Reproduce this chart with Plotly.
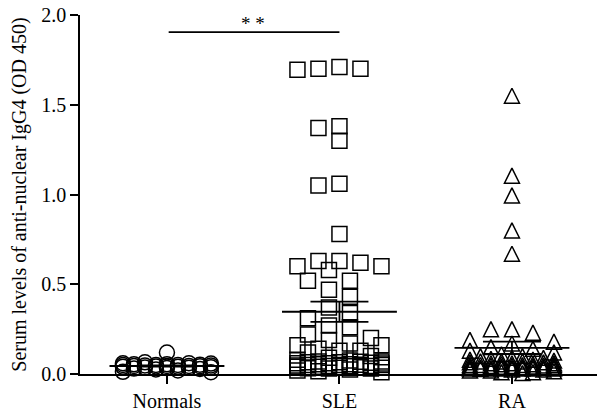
import plotly.graph_objects as go

categories = ["Normals", "SLE", "RA"]

normals = [0.12, 0.065, 0.06, 0.06, 0.058, 0.055, 0.055, 0.052, 0.05, 0.05,
           0.05, 0.048, 0.048, 0.045, 0.045, 0.045, 0.043, 0.042, 0.04, 0.04,
           0.038, 0.036, 0.035, 0.033, 0.03, 0.028, 0.025, 0.02, 0.012, 0.01]

sle = [1.71, 1.70, 1.70, 1.695, 1.38, 1.37, 1.30, 1.06, 1.05, 0.78,
       0.63, 0.63, 0.62, 0.60, 0.60, 0.58, 0.52, 0.52, 0.47, 0.43,
       0.37, 0.34, 0.31, 0.27, 0.26, 0.22, 0.20, 0.19, 0.17, 0.16,
       0.16, 0.14, 0.13, 0.13, 0.12, 0.10, 0.09,
       0.08, 0.075, 0.07, 0.07, 0.068, 0.065, 0.065, 0.062, 0.06, 0.06,
       0.058, 0.055, 0.055, 0.052, 0.05, 0.05, 0.05, 0.048, 0.045, 0.045,
       0.043, 0.04, 0.04, 0.038, 0.035, 0.035, 0.032, 0.03, 0.03, 0.025,
       0.02, 0.015, 0.01]

ra = [1.55, 1.105, 0.995, 0.80, 0.67, 0.25, 0.25, 0.23, 0.19, 0.18,
      0.17, 0.15, 0.14, 0.13, 0.12, 0.11, 0.10, 0.10, 0.09, 0.09,
      0.085, 0.08, 0.08, 0.075, 0.07, 0.07, 0.07, 0.065, 0.065, 0.06,
      0.06, 0.06, 0.055, 0.055, 0.05, 0.05, 0.05, 0.05, 0.048, 0.045,
      0.045, 0.042, 0.04, 0.04, 0.04, 0.038, 0.035, 0.035, 0.033, 0.03,
      0.03, 0.03, 0.03, 0.03, 0.03, 0.028, 0.025, 0.025, 0.02, 0.02,
      0.015, 0.01, 0.01, 0.005]

y_ticks = [0.0, 0.5, 1.0, 1.5, 2.0]
signif_label = "* *"

# ---- layout geometry ----
W, H = 597, 413
ML, MR, MT, MB = 80, 0, 15, 39
XR = [-0.504, 2.493]
YR = [0.0, 2.0]
PX_X = (W - ML - MR) / (XR[1] - XR[0])
PX_Y = (H - MT - MB) / (YR[1] - YR[0])
MSIZE = 15


def swarm(values, step_px, nslots, w_px, h_px):
    """Simple beeswarm: returns x offsets (data units) for each value."""
    order = sorted(range(len(values)), key=lambda i: -values[i])
    slots = [0]
    for k in range(1, nslots + 1):
        slots += [-k, k]
    placed = []
    offs = [0.0] * len(values)
    for i in order:
        y = values[i] * PX_Y
        best_x, best_score = None, None
        for s in slots:
            x = s * step_px
            score = 0.0
            for (px, py) in placed:
                ox = w_px - abs(px - x)
                oy = h_px - abs(py - y)
                if ox > 0 and oy > 0:
                    score += ox * oy
            if best_score is None or score < best_score - 1e-9:
                best_x, best_score = x, score
            if score == 0:
                break
        placed.append((best_x, y))
        offs[i] = best_x / PX_X
    return offs


groups = [
    (normals, "circle-open", 11.0),
    (sle, "square-open", 10.5),
    (ra, "arrow-up-open", 10.5),
]

fig = go.Figure()
shapes = []
for gi, (vals, sym, step) in enumerate(groups):
    offs = swarm(vals, step, 4, 14, 14)
    xs = [gi + o for o in offs]
    if sym.startswith("arrow"):
        # arrow-up apex sits on the point; shift so the glyph is centred
        ys = [v + (MSIZE / 2) / PX_Y for v in vals]
    else:
        ys = list(vals)
    fig.add_trace(go.Scatter(
        x=xs, y=ys, mode="markers", cliponaxis=False, showlegend=False,
        marker=dict(symbol=sym, size=MSIZE, color="black",
                    line=dict(color="black", width=1.5)),
    ))
    n = len(vals)
    mean = sum(vals) / n
    sd = (sum((v - mean) ** 2 for v in vals) / (n - 1)) ** 0.5
    sem = sd / n ** 0.5
    lw = dict(color="black", width=1.8)
    shapes.append(dict(type="line", xref="x", yref="y", x0=gi - 0.333, x1=gi + 0.333,
                       y0=mean, y1=mean, line=lw))
    for yy in (mean - sem, mean + sem):
        shapes.append(dict(type="line", xref="x", yref="y", x0=gi - 0.168, x1=gi + 0.168,
                           y0=yy, y1=yy, line=lw))
    shapes.append(dict(type="line", xref="x", yref="y", x0=gi, x1=gi,
                       y0=mean - sem, y1=mean + sem, line=lw))

# significance bar between Normals and SLE
shapes.append(dict(type="line", xref="x", yref="y", x0=0.01, x1=1.0,
                   y0=1.905, y1=1.905, line=dict(color="black", width=1.8)))

font_family = "Liberation Serif"
fig.update_layout(
    width=W, height=H,
    margin=dict(l=ML, r=MR, t=MT, b=MB),
    paper_bgcolor="white", plot_bgcolor="white",
    font=dict(family=font_family, size=20, color="black"),
    shapes=shapes,
    annotations=[dict(x=0.5, y=1.905, xref="x", yref="y", text=signif_label,
                      showarrow=False, yanchor="bottom", yshift=-4,
                      font=dict(family=font_family, size=19, color="black"))],
    xaxis=dict(range=XR, tickvals=[0, 1, 2], ticktext=categories,
               showline=True, linecolor="black", linewidth=1.5,
               ticks="outside", ticklen=8, tickwidth=1.5, tickcolor="black",
               showgrid=False, zeroline=False,
               tickfont=dict(family=font_family, size=20)),
    yaxis=dict(range=YR, tickvals=y_ticks, tickformat=".1f",
               showline=True, linecolor="black", linewidth=1.5,
               ticks="outside", ticklen=8, tickwidth=1.5, tickcolor="black",
               showgrid=False, zeroline=False,
               tickfont=dict(family=font_family, size=20),
               title=dict(text="Serum levels of anti-nuclear IgG4 (OD 450)",
                          font=dict(family=font_family, size=20), standoff=9)),
)

fig.write_html("out.html", config={"displayModeBar": False},
               post_script="document.body.style.margin='0';document.body.style.overflow='hidden';")
